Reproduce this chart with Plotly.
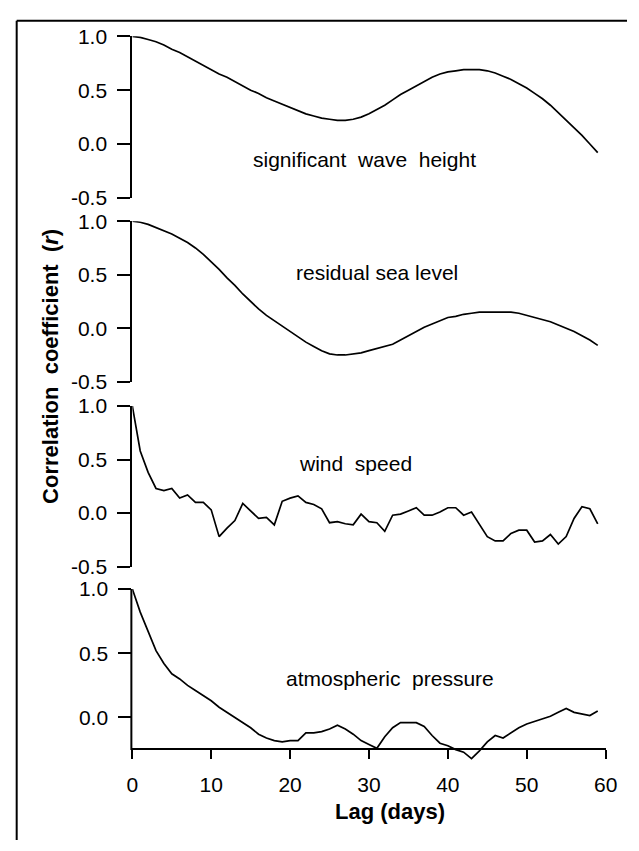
import plotly.graph_objects as go

# ---------------- data ----------------
lags = list(range(60))

sig_wave_height = [1.00, 0.99, 0.97, 0.95, 0.92, 0.88, 0.85, 0.81, 0.77, 0.73,
                   0.69, 0.65, 0.62, 0.58, 0.54, 0.50, 0.47, 0.43, 0.40, 0.37,
                   0.34, 0.31, 0.28, 0.26, 0.24, 0.23, 0.22, 0.22, 0.23, 0.25,
                   0.28, 0.32, 0.36, 0.41, 0.46, 0.50, 0.54, 0.58, 0.62, 0.65,
                   0.67, 0.68, 0.69, 0.69, 0.69, 0.68, 0.66, 0.63, 0.60, 0.56,
                   0.52, 0.47, 0.42, 0.36, 0.29, 0.22, 0.15, 0.08, 0.00, -0.08]

residual_sea_level = [1.00, 0.99, 0.97, 0.94, 0.91, 0.88, 0.84, 0.80, 0.75, 0.69,
                      0.62, 0.55, 0.47, 0.40, 0.32, 0.25, 0.18, 0.12, 0.07, 0.02,
                      -0.03, -0.08, -0.13, -0.17, -0.21, -0.24, -0.25, -0.25, -0.24, -0.23,
                      -0.21, -0.19, -0.17, -0.15, -0.11, -0.07, -0.03, 0.01, 0.04, 0.07,
                      0.10, 0.11, 0.13, 0.14, 0.15, 0.15, 0.15, 0.15, 0.15, 0.14,
                      0.12, 0.10, 0.08, 0.06, 0.03, 0.00, -0.03, -0.07, -0.11, -0.16]

wind_speed = [1.00, 0.58, 0.38, 0.23, 0.21, 0.23, 0.14, 0.17, 0.10, 0.10,
              0.03, -0.22, -0.14, -0.07, 0.09, 0.02, -0.05, -0.04, -0.11, 0.11,
              0.14, 0.16, 0.10, 0.08, 0.04, -0.09, -0.08, -0.10, -0.11, -0.01,
              -0.08, -0.09, -0.17, -0.02, -0.01, 0.02, 0.05, -0.02, -0.02, 0.01,
              0.05, 0.05, -0.02, 0.01, -0.11, -0.22, -0.26, -0.26, -0.19, -0.16,
              -0.16, -0.27, -0.26, -0.20, -0.29, -0.22, -0.05, 0.06, 0.04, -0.10]

atm_pressure = [1.00, 0.82, 0.67, 0.52, 0.42, 0.34, 0.30, 0.25, 0.21, 0.17,
                0.13, 0.08, 0.04, 0.00, -0.04, -0.08, -0.13, -0.16, -0.18, -0.19,
                -0.18, -0.18, -0.12, -0.12, -0.11, -0.09, -0.06, -0.09, -0.13, -0.18,
                -0.21, -0.24, -0.15, -0.08, -0.04, -0.04, -0.04, -0.07, -0.14, -0.20,
                -0.22, -0.25, -0.27, -0.32, -0.26, -0.19, -0.14, -0.16, -0.12, -0.08,
                -0.05, -0.03, -0.01, 0.01, 0.04, 0.07, 0.04, 0.03, 0.015, 0.05]

panel_labels = ["significant\u00a0 wave\u00a0 height", "residual sea level",
                "wind\u00a0 speed", "atmospheric\u00a0 pressure"]
ytick_vals_full = [-0.5, 0.0, 0.5, 1.0]
ytick_text_full = ["-0.5", "0.0", "0.5", "1.0"]
ytick_vals_last = [0.0, 0.5, 1.0]
ytick_text_last = ["0.0", "0.5", "1.0"]
xtick_vals = [0, 10, 20, 30, 40, 50, 60]
x_title = "Lag (days)"
y_title = "Correlation\u00a0 coefficient\u00a0 (<i>r</i>)"

# ---------------- layout helpers ----------------
W, H = 639, 851
FONT = "Liberation Sans, Arial, sans-serif"


def fx(p):
    return p / W


def fy(p):
    return 1 - p / H


series = [sig_wave_height, residual_sea_level, wind_speed, atm_pressure]
# (top px, bottom px, y range)
panels = [(25, 191, [-0.5, 1.0]), (215, 380, [-0.5, 1.0]),
          (405, 570, [-0.5, 1.0]), (593, 770, [-0.34, 1.0])]
label_pos = [(369, 152), (382, 268), (360, 464), (395, 685)]

fig = go.Figure()
layout = dict(width=W, height=H, margin=dict(l=0, r=0, t=0, b=0),
              plot_bgcolor="white", paper_bgcolor="white",
              font=dict(family=FONT, color="black"), showlegend=False)

for i, s in enumerate(series):
    n = "" if i == 0 else str(i + 1)
    fig.add_trace(go.Scatter(x=lags, y=s, mode="lines",
                             line=dict(color="black", width=1.7),
                             xaxis="x" + n, yaxis="y" + n, hoverinfo="skip"))
    top, bot, yr = panels[i]
    last = i == 3
    xa = dict(domain=[fx(130), fx(617)], range=[0, 60], showgrid=False,
              zeroline=False, anchor="y" + n)
    if last:
        xa.update(anchor="free", position=fy(757.5), showline=True, linewidth=2,
                  linecolor="black", ticks="outside", ticklen=9, tickwidth=2,
                  tickcolor="black", tickvals=xtick_vals,
                  tickfont=dict(size=21, family=FONT, color="black"),
                  ticklabelstandoff=8)
    else:
        xa.update(visible=False)
    ya = dict(domain=[fy(bot), fy(top)], range=yr, showgrid=False, zeroline=False,
              anchor="x" + n, showline=not last, linewidth=2, linecolor="black",
              ticks="outside", ticklen=13, tickwidth=2, tickcolor="black",
              tickvals=ytick_vals_last if last else ytick_vals_full,
              ticktext=ytick_text_last if last else ytick_text_full,
              tickfont=dict(size=21, family=FONT, color="black"),
              ticklabelstandoff=6)
    layout["xaxis" + n] = xa
    layout["yaxis" + n] = ya

fig.update_layout(**layout)

shapes = [
    # y axis line of the last panel (from the x axis up to 1.0)
    dict(type="line", xref="paper", yref="paper", x0=fx(129), x1=fx(129),
         y0=fy(758.5), y1=fy(593),
         line=dict(color="black", width=2)),
    # frame (top and left)
    dict(type="line", xref="paper", yref="paper", x0=fx(11), x1=1, y0=fy(9), y1=fy(9),
         line=dict(color="black", width=2)),
    dict(type="line", xref="paper", yref="paper", x0=fx(11), x1=fx(11), y0=fy(9), y1=0,
         line=dict(color="black", width=2)),
]
fig.update_layout(shapes=shapes)

ann = []
for lab, (px, py) in zip(panel_labels, label_pos):
    ann.append(dict(text=lab, xref="paper", yref="paper", x=fx(px), y=fy(py),
                    xanchor="center", yanchor="middle", showarrow=False,
                    font=dict(size=21, family=FONT, color="black")))
ann.append(dict(text="<b>" + y_title + "</b>", xref="paper", yref="paper",
                x=fx(45), y=fy(364), textangle=-90, xanchor="center",
                yanchor="middle", showarrow=False,
                font=dict(size=22, family=FONT, color="black")))
ann.append(dict(text="<b>" + x_title + "</b>", xref="paper", yref="paper",
                x=fx(395), y=fy(822), xanchor="center", yanchor="middle",
                showarrow=False, font=dict(size=22, family=FONT, color="black")))
fig.update_layout(annotations=ann)

fig.write_html("out.html")
